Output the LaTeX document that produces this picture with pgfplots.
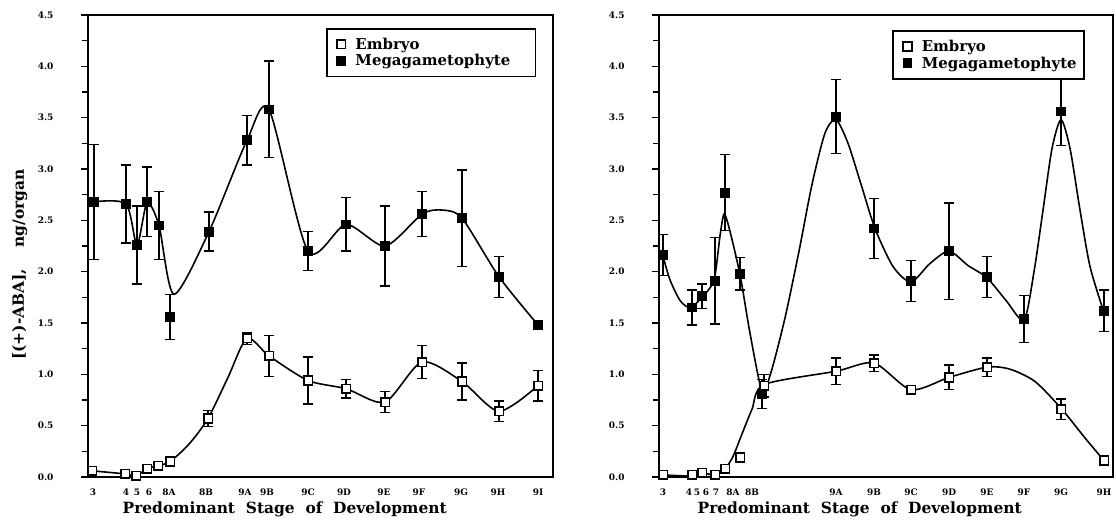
\documentclass[border=0pt]{standalone}
\usepackage{fontspec}
\setmainfont{DejaVu Serif}
\usepackage{pgfplots}
\pgfplotsset{compat=1.18}
\pgfplotsset{
  panel/.style={
    scale only axis, height=462bp,
    ymin=0, ymax=4.5, ytick={0,0.5,...,4.5}, minor y tick num=1,
    ytick pos=left, tick align=outside,
    major tick length=7bp, minor tick length=6bp,
    every tick/.style={black, line width=1.2bp},
    axis line style={line width=1.6bp},
    /pgf/number format/assume math mode=true,
    yticklabel style={font=\bfseries\fontsize{9}{10}\selectfont, xshift=-24bp,
      /pgf/number format/.cd, fixed, fixed zerofill, precision=1},
    xticklabel style={font=\bfseries\fontsize{9}{10}\selectfont, yshift=-1bp, inner xsep=0.5bp},
    xtick style={draw=none},
    xlabel={Predominant\ \ Stage\ \ of\ \ Development},
    xlabel style={font=\bfseries\fontsize{15.5}{17}\selectfont, anchor=north, yshift=-21bp},
    clip=false,
    legend style={anchor=north west, draw=black, line width=1.6bp,
      font=\bfseries\fontsize{15}{19}\selectfont, inner xsep=10bp, inner ysep=7bp,
      cells={anchor=west}, row sep=0bp,
      /tikz/every odd column/.append style={column sep=8bp}},
  },
  curve/.style={black, line width=1.6bp, smooth, tension=0.45, no marks, forget plot},
  emb/.style={only marks, mark=square*, mark size=4.3bp,
    mark options={fill=white, draw=black, line width=1.6bp},
    error bars/.cd, y dir=both, y explicit,
    error bar style={line width=1.4bp, black},
    error mark options={rotate=90, mark size=5bp, line width=1.4bp, black}},
  meg/.style={only marks, mark=square*, mark size=4.3bp,
    mark options={fill=black, draw=black, line width=1.2bp},
    error bars/.cd, y dir=both, y explicit,
    error bar style={line width=1.4bp, black},
    error mark options={rotate=90, mark size=5bp, line width=1.4bp, black}},
}
\begin{document}
\begin{tikzpicture}[x=1bp,y=1bp]
\useasboundingbox (0,0) rectangle (1116,527);
% ---------------- left panel ----------------
\begin{axis}[panel, at={(88bp,50bp)}, anchor=south west, width=465bp,
  xmin=88, xmax=553,
  xtick={93,126,137,149,169,206,245,267,308,344,384,419,461,498,538},
  xticklabels={3,4,5,6,8A,8B,9A,9B,9C,9D,9E,9F,9G,9H,9I},
  xlabel style={at={(axis description cs:0.423,0)}},
  ylabel={[(+)-ABA],\ \ \ \ ng/organ},
  ylabel style={font=\bfseries\fontsize{15.5}{16}\selectfont, at={(axis description cs:-0.147,0.46)}, anchor=center},
  legend style={at={(0.512,0.972)}},
]
\addplot[curve] coordinates {(92,0.06) (125,0.03) (136,0.01) (147,0.08) (158,0.11) (170,0.15) (189,0.32) (208,0.57) (228,0.97) (247,1.35) (269,1.18) (308,0.94) (346,0.86) (385,0.73) (422,1.12) (462,0.93) (499,0.64) (538,0.89)};
\addplot[curve] coordinates {(94,2.68) (126,2.66) (137,2.26) (147,2.67) (159,2.45) (174,1.78) (209,2.39) (247,3.28) (269,3.58) (308,2.2) (346,2.46) (385,2.25) (422,2.56) (442,2.6) (462,2.52) (499,1.95) (538,1.48)};
\addplot[emb] coordinates {
 (92,0.06) +- (0,0.02) (125,0.03) +- (0,0.02) (136,0.01) +- (0,0.01)
 (147,0.08) +- (0,0.02) (158,0.11) +- (0,0.02) (170,0.15) +- (0,0.02)
 (208,0.57) +- (0,0.08) (247,1.35) +- (0,0.06) (269,1.18) +- (0,0.20)
 (308,0.94) +- (0,0.23) (346,0.86) +- (0,0.09) (385,0.73) +- (0,0.10)
 (422,1.12) +- (0,0.16) (462,0.93) +- (0,0.18) (499,0.64) +- (0,0.10)
 (538,0.89) +- (0,0.15)};
\addlegendentry{\makebox[168bp][l]{Embryo}}
\addplot[meg] coordinates {
 (94,2.68) +- (0,0.56) (126,2.66) +- (0,0.38) (137,2.26) +- (0,0.38)
 (147,2.68) +- (0,0.34) (159,2.45) +- (0,0.33) (170,1.56) +- (0,0.22)
 (209,2.39) +- (0,0.19) (247,3.28) +- (0,0.24) (269,3.58) +- (0,0.47)
 (308,2.20) +- (0,0.19) (346,2.46) +- (0,0.26) (385,2.25) +- (0,0.39)
 (422,2.56) +- (0,0.22) (462,2.52) +- (0,0.47) (499,1.95) +- (0,0.20)
 (538,1.48) +- (0,0.03)};
\addlegendentry{\makebox[168bp][l]{Megagametophyte}}
\end{axis}
% ---------------- right panel ----------------
\begin{axis}[panel, at={(659bp,50bp)}, anchor=south west, width=454bp,
  xmin=659, xmax=1113,
  xtick={663,689,697,706,716,733,752,836,874,911,949,987,1024,1061,1104},
  xticklabels={3,4,5,6,7,8A,8B,9A,9B,9C,9D,9E,9F,9G,9H},
  xlabel style={at={(axis description cs:0.442,0)}},
  legend style={at={(0.514,0.967)}, fill=white},
]
\addplot[curve] coordinates {(663,0.02) (692,0.01) (702,0.04) (715,0.02) (725,0.08) (733,0.2) (742,0.42) (752,0.66) (764,0.9) (836,1.03) (874,1.11) (911,0.85) (949,0.97) (987,1.07) (1010,1.05) (1035,0.93) (1061,0.67) (1085,0.38) (1104,0.16)};
\addplot[curve] coordinates {(663,2.15) (670,1.92) (680,1.72) (690,1.65) (702,1.75) (714,1.92) (720,2.35) (724,2.56) (729,2.43) (740,1.97) (750,1.4) (762,0.84) (771,1.02) (785,1.55) (799,2.2) (812,2.85) (825,3.35) (836,3.48) (848,3.25) (862,2.82) (875,2.42) (893,2.05) (911,1.9) (930,2.08) (949,2.2) (968,2.06) (987,1.94) (1006,1.72) (1024,1.53) (1034,2.0) (1043,2.6) (1052,3.2) (1061,3.48) (1070,3.2) (1080,2.6) (1090,2.05) (1104,1.6)};
\addplot[emb] coordinates {
 (663,0.02) +- (0,0.01) (692,0.02) +- (0,0.01) (702,0.04) +- (0,0.01)
 (715,0.02) +- (0,0.01) (725,0.08) +- (0,0.01) (740,0.19) +- (0,0.02)
 (764,0.89) +- (0,0.11) (836,1.03) +- (0,0.13) (874,1.11) +- (0,0.08)
 (911,0.85) +- (0,0.04) (949,0.97) +- (0,0.12) (987,1.07) +- (0,0.09)
 (1061,0.66) +- (0,0.10) (1104,0.16) +- (0,0.03)};
\addlegendentry{\makebox[150bp][l]{Embryo}}
\addplot[meg] coordinates {
 (663,2.16) +- (0,0.20) (692,1.65) +- (0,0.17) (702,1.76) +- (0,0.12)
 (715,1.91) +- (0,0.42) (725,2.77) +- (0,0.37) (740,1.98) +- (0,0.16)
 (762,0.81) +- (0,0.14) (836,3.51) +- (0,0.36) (874,2.42) +- (0,0.29)
 (911,1.91) +- (0,0.20) (949,2.20) +- (0,0.47) (987,1.95) +- (0,0.20)
 (1024,1.54) +- (0,0.23) (1061,3.56) +- (0,0.33) (1104,1.62) +- (0,0.20)};
\addlegendentry{\makebox[150bp][l]{Megagametophyte}}
\end{axis}
\end{tikzpicture}
\end{document}
